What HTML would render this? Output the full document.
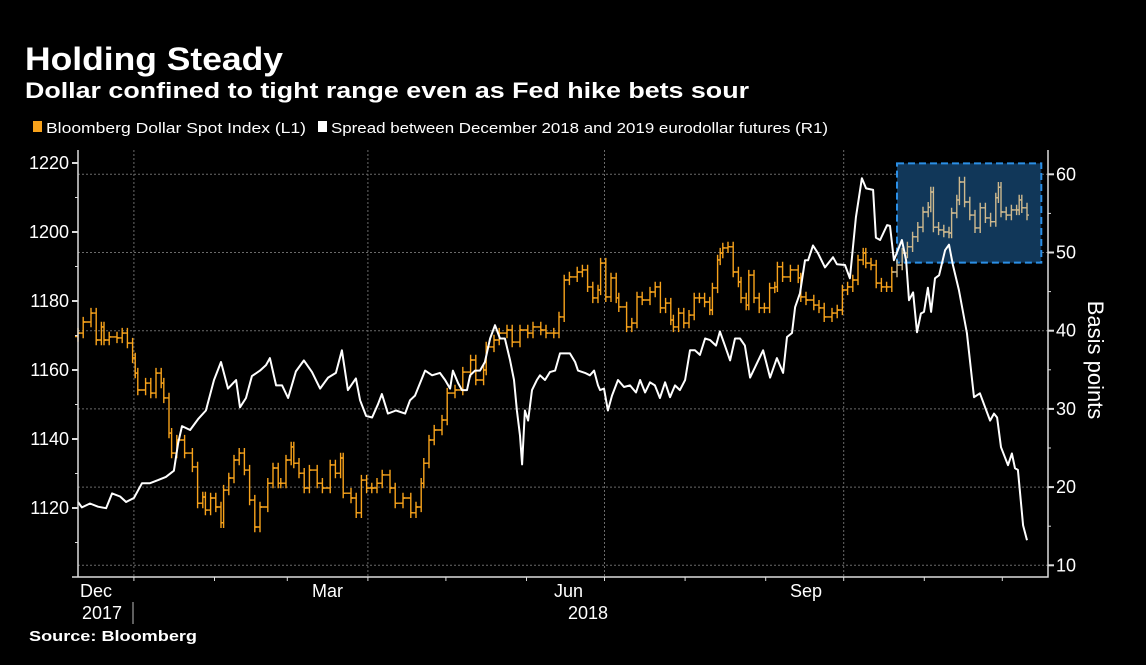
<!DOCTYPE html>
<html><head><meta charset="utf-8"><style>
html,body{margin:0;padding:0;background:#000;}
svg{display:block;font-family:"Liberation Sans",sans-serif;}
</style></head><body>
<svg id="chart" width="1146" height="665" viewBox="0 0 1146 665" xmlns="http://www.w3.org/2000/svg">
<rect x="0" y="0" width="1146" height="665" fill="#000"/>
<text x="25" y="70" fill="#fff" font-size="32" font-weight="bold" textLength="258" lengthAdjust="spacingAndGlyphs">Holding Steady</text>
<text x="25" y="98" fill="#fff" font-size="22" font-weight="bold" textLength="724" lengthAdjust="spacingAndGlyphs">Dollar confined to tight range even as Fed hike bets sour</text>
<g>
<rect x="33" y="121" width="9" height="11" fill="#f7a21b"/>
<text x="46" y="133" fill="#fff" font-size="15" textLength="260" lengthAdjust="spacingAndGlyphs">Bloomberg Dollar Spot Index (L1)</text>
<rect x="318" y="121" width="9" height="11" fill="#fff"/>
<text x="331" y="133" fill="#fff" font-size="15" textLength="497" lengthAdjust="spacingAndGlyphs">Spread between December 2018 and 2019 eurodollar futures (R1)</text>
</g>
<g id="grid"></g>
<g id="box"></g>
<g id="bars"></g>
<g id="line"></g>
<g id="axes"></g>
<text x="29" y="641" fill="#fff" font-size="15" font-weight="bold" textLength="168" lengthAdjust="spacingAndGlyphs">Source: Bloomberg</text>
<text transform="translate(1088,360) rotate(90)" text-anchor="middle" fill="#fff" font-size="22">Basis points</text>
</svg>
<script>
// Spread series (days since start, basis points)
const spreadDays = [0,1.5,4.6,7.7,10.8,13.1,16.2,18.5,21.5,24.6,27.7,30.8,33.8,36.9,38.5,40,43.1,46.2,49.2,52.3,55,57.7,60.8,62.3,64.6,66.9,70,72.3,73.8,76.2,78.5,80.8,83.8,86.9,90,93.1,96.2,99.2,101.5,103.8,106.9,108.5,110.8,113.1,115.4,116.9,119.2,122.3,125.8,127.7,129.6,133.5,136.2,139.2,141.2,143.1,144.2,146.2,147.7,149.6,150.8,152.7,154.6,156.5,158.5,160.4,162.3,164.2,166.2,167.7,168.8,170,170.8,171.9,173.1,174.6,176.5,177.7,179.6,181.5,183.5,185.4,189.2,191.2,192.3,195,196.9,198.5,200,200.8,202.3,203.8,205.4,207.7,210,212.3,214.6,216.2,218.1,220,221.9,223.8,225.8,227.7,229.6,231.5,233.5,235.4,237.3,239.2,241.2,243.1,245.4,246.9,248.8,250.8,252.7,254.6,256.5,258.5,263.5,266.2,268.8,271.2,272.7,274.6,275.8,277.7,279.6,280.8,282.7,284.6,287.3,290.4,291.9,295,296.9,299.2,301.5,303.1,305.8,306.9,308.5,311.2,312.3,313.8,316.9,318.5,319.6,321.2,322.7,324.2,325.4,326.9,328.1,329.6,331.2,333.5,335,336.5,338.8,341.9,344.6,346.9,350.8,352.3,353.5,355,357.7,359.2,360.4,361.5,363.5,365];
const spreadValues = [18.1,17.4,17.9,17.5,17.3,19.2,18.8,18.1,18.6,20.5,20.5,20.9,21.3,22.1,25.6,27.8,27.3,28.7,29.8,33.7,36,32.6,33.7,30.2,31.4,34.2,34.9,35.6,36.5,33,33,31.4,34.8,36.2,34.7,32.6,34,34.6,37.5,32.4,33.9,31.1,29.1,28.9,30.6,31.9,29.4,29.8,29.4,31.1,31.7,34.9,34.3,34.6,33.7,32.6,34.9,33.3,32.4,32.4,34.3,34.9,34.9,36,39,40.7,39,39,36.2,33.7,29.8,26.6,22.9,29.8,28.5,32.4,33.7,34.3,33.7,34.7,34.9,37.1,37.1,36,34.9,34.6,34.3,34.9,33,32.4,32.6,29.8,31.7,33.7,32.8,33,32.1,33.7,32.1,33.4,33,31.4,33.4,31.5,33,32.4,33.7,37.5,37.5,36.9,39,38.8,38.1,39.9,38.1,36.2,39,39,38.1,34,37.5,34,36.5,34.6,39.2,39.7,43,44.8,49,49,50.9,49.9,48.1,49.4,48.5,48.4,46.7,54.5,59.5,58.2,58,51.9,51.6,53.5,53.4,49,51.6,49,43.9,44.9,39.8,42.2,42.4,45.5,42.4,46.7,47.1,50.3,51,48.4,45.2,39.7,31.5,32,28.5,29.4,28.9,25.1,22.8,24.3,22.4,22.2,15.1,13.2];
// Dollar index closes (days since start, index level)
const dollarDays = [0,2,5,7,9,10,12,15,17,19,21,22,23,26,28,30,32,33,35,36,38,41,44,46,48,49,51,53,55,56,58,60,62,64,66,68,70,73,75,77,78,80,82,83,85,87,89,92,94,97,99,101,102,105,107,109,111,113,115,117,120,122,125,128,130,132,133,135,137,140,142,145,148,151,153,156,157,160,162,165,167,170,173,175,178,180,183,185,187,189,192,194,196,198,200,201,203,205,207,208,211,213,215,217,220,222,224,226,228,229,231,233,235,237,239,241,243,244,246,247,248,250,252,254,255,257,258,260,262,264,266,268,269,271,274,277,278,280,283,285,287,290,292,294,296,298,300,302,303,305,307,309,311,313,315,317,319,321,323,325,327,328,329,331,333,335,336,338,339,341,343,345,347,349,351,353,354,355,357,359,361,362,363,365];
const dollarValues = [1170.7,1173.9,1176.5,1168.7,1172.5,1168.7,1169.6,1169.3,1170.7,1167.8,1163.5,1159.1,1154.2,1156.2,1153.3,1159.1,1156.2,1151.9,1141.7,1135.9,1139.7,1135.9,1131.9,1121.4,1123.2,1119.4,1122.9,1120.3,1115.7,1125.2,1128.7,1133.9,1135.9,1131,1122.3,1114.5,1120.3,1127.2,1131.6,1127.2,1127.2,1133.9,1137.7,1133,1130.1,1125.8,1131,1127.2,1125.8,1132.5,1130.1,1134.5,1124.3,1122.9,1118.6,1128.1,1125.8,1125.8,1127.2,1129.6,1125.8,1121.4,1122.9,1118.6,1120.3,1127.2,1133,1139.7,1142.6,1145.5,1153.3,1154.2,1159.4,1162.9,1157.1,1160,1166.7,1168.7,1170.7,1171.6,1168.1,1171.6,1170.7,1172.5,1171.6,1170.7,1170.7,1175.4,1186.1,1187,1188.4,1189,1184.1,1180.9,1183.2,1191,1181.2,1186.7,1180.9,1178.3,1172.5,1173.6,1181.2,1180.3,1182.6,1184.1,1178,1179.4,1174.5,1172.5,1176.5,1173.6,1175.9,1180.9,1180.9,1179.7,1177.4,1183.8,1191.9,1193.9,1195.4,1195.7,1188.4,1185.5,1180.9,1178.8,1187.5,1180.9,1178,1178,1183.8,1184.1,1189.9,1187,1189,1186.7,1181.2,1180.3,1178.8,1178,1175.4,1176.5,1177.4,1183.2,1184.1,1186.1,1191.9,1193.9,1191,1190.4,1185.2,1184.1,1184.1,1188.4,1190.4,1193.9,1195.7,1198.6,1201.4,1205.8,1207.2,1211.6,1201.4,1200.6,1200,1199.7,1205.5,1209.3,1214.5,1208.7,1204.9,1201.2,1207,1204.1,1203,1209.9,1213,1205.8,1204.9,1206.4,1206.4,1209.3,1207,1204.9];
const leftTicks = [1120,1140,1160,1180,1200,1220];
const rightTicks = [10,20,30,40,50,60];
const monthStarts = [21.5,52.5,80.5,111.5,141.5,172.5,202.5,233.5,264.5,294.5,325.5,355.5];
const quarterStarts = [21.5,111.5,202.5,294.5];
const highlightDays = [315,370.5];
const highlightRange = [48.7,61.4];

const NS = "http://www.w3.org/2000/svg";
const X0 = 78, X1 = 1048, YB = 577, YT = 150;
const xS = d => 78 + d * 2.6;
const yL = v => 163 + (1220 - v) * 3.45;
const yR = v => 174.3 + (60 - v) * 7.82;
function mk(parent, tag, attrs) {
  const e = document.createElementNS(NS, tag);
  for (const k in attrs) e.setAttribute(k, attrs[k]);
  document.getElementById(parent).appendChild(e);
  return e;
}
rightTicks.forEach(t => {
  const g = mk('grid', 'line', {x1: X0, x2: X1, y1: yR(t), y2: yR(t), stroke: '#6a6a6a', 'stroke-width': 1, 'stroke-dasharray': '2,2'});
  
  
});
quarterStarts.forEach(d => {
  const g = mk('grid', 'line', {x1: xS(d), x2: xS(d), y1: YT, y2: YB, stroke: '#6a6a6a', 'stroke-width': 1, 'stroke-dasharray': '2,2'});
  
  
});
const hb = mk('box', 'rect', {x: xS(highlightDays[0]), y: yR(highlightRange[1]), width: xS(highlightDays[1]) - xS(highlightDays[0]), height: yR(highlightRange[0]) - yR(highlightRange[1]), fill: '#113759', stroke: '#2b8fe6', 'stroke-width': 2, 'stroke-dasharray': '7,4'});


for (let i = 0; i < dollarDays.length; i++) {
  const prev = i > 0 ? dollarValues[i - 1] : dollarValues[i] - 1;
  const cur = dollarValues[i];
  const x = xS(dollarDays[i]);
  const px = i > 0 ? xS(dollarDays[i - 1]) : x - 3;
  const inBox = dollarDays[i] >= highlightDays[0];
  const col = inBox ? '#cdb88e' : '#f7a21b';
  const lo = Math.min(prev, cur) - 1.5, hi = Math.max(prev, cur) + 1.5;
  const b = mk('bars', 'path', {d: `M${px.toFixed(1)} ${yL(prev).toFixed(1)}H${x.toFixed(1)}M${x.toFixed(1)} ${yL(hi).toFixed(1)}V${yL(lo).toFixed(1)}M${x.toFixed(1)} ${yL(cur).toFixed(1)}h2`, stroke: col, 'stroke-width': 1.4, fill: 'none'});
  
  
}
let dStr = '';
spreadDays.forEach((d, i) => { dStr += (i ? 'L' : 'M') + xS(d).toFixed(1) + ' ' + yR(spreadValues[i]).toFixed(1); });
const ln = mk('line', 'path', {d: dStr, stroke: '#fff', 'stroke-width': 2, fill: 'none', 'stroke-linejoin': 'round'});


const ax = mk('axes', 'path', {d: `M${X0} ${YT}V${YB}H${X1}V${YT}M72 ${YB}H${X0}`, stroke: '#ddd', 'stroke-width': 1.5, fill: 'none'});


for (let v = 1110; v <= 1220; v += 10) {
  const major = leftTicks.indexOf(v) >= 0;
  const t = mk('axes', 'line', {x1: major ? X0 - 6 : X0 - 3, x2: X0, y1: yL(v), y2: yL(v), stroke: '#ddd', 'stroke-width': major ? 2 : 1});
  
  
}
leftTicks.forEach(v => {
  const t = mk('axes', 'text', {x: 69, y: yL(v) + 6, fill: '#fff', 'font-size': 18, 'text-anchor': 'end'});
  t.textContent = v;
  
  
});
for (let v = 10; v <= 60; v += 5) {
  const major = rightTicks.indexOf(v) >= 0;
  const t = mk('axes', 'line', {x1: X1, x2: major ? X1 + 6 : X1 + 3, y1: yR(v), y2: yR(v), stroke: '#ddd', 'stroke-width': major ? 2 : 1});
  
  
}
rightTicks.forEach(v => {
  const t = mk('axes', 'text', {x: 1056, y: yR(v) + 6, fill: '#fff', 'font-size': 18});
  t.textContent = v;
  
  
});
monthStarts.forEach(d => {
  const t = mk('axes', 'line', {x1: xS(d), x2: xS(d), y1: YB, y2: YB + 4, stroke: '#ddd', 'stroke-width': 1});
  
  
});
const xl = [['Dec', 80, 597], ['Mar', 312, 597], ['Jun', 554, 597], ['Sep', 790, 597], ['2017', 82, 619], ['2018', 568, 619]];
xl.forEach(l => {
  const t = mk('axes', 'text', {x: l[1], y: l[2], fill: '#fff', 'font-size': 18});
  t.textContent = l[0];
  
  
});
const sep = mk('axes', 'line', {x1: 133, x2: 133, y1: 602, y2: 624, stroke: '#bbb', 'stroke-width': 1});


</script>
</body></html>
